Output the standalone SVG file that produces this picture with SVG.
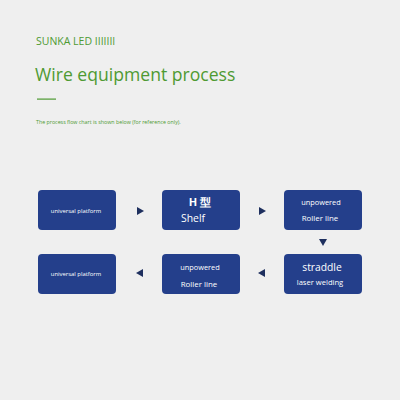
<svg xmlns="http://www.w3.org/2000/svg" width="400" height="400" viewBox="0 0 400 400">
<style>
.bg{fill:#efefef}
.box{fill:#243f8b}
.t{fill:#ffffff;font-family:"Open Sans","Noto Sans",sans-serif;text-anchor:middle}
.g{fill:#4e9a32;font-family:"Open Sans","Noto Sans",sans-serif}
.arr{fill:#1e2f5e}
</style>
<rect class="bg" x="0" y="0" width="400" height="400"/>
<g id="header">
<text class="g" x="36" y="45" font-size="10.5">SUNKA LED IIIIIII</text>
<text class="g" x="35" y="81" font-size="17.6">Wire equipment process</text>
<rect x="37" y="98.5" width="19" height="1.2" fill="#4e9a32"/>
<text class="g" x="36" y="124" font-size="5.3">The process flow chart is shown below (for reference only).</text>
</g>
<g id="n1"><rect class="box" x="38" y="190" width="78" height="40" rx="4"/><text class="t" x="76" y="213" font-size="5.9">universal platform</text></g>
<g id="n2"><rect class="box" x="162" y="190" width="78" height="40" rx="4"/><text class="t" x="200" y="206" font-size="11" font-weight="bold" font-family="'Noto Sans CJK SC',sans-serif">H 型</text><text class="t" x="193" y="222" font-size="10.4">Shelf</text></g>
<g id="n3"><rect class="box" x="284" y="190" width="78" height="40" rx="4"/><text class="t" x="321" y="205" font-size="7.4">unpowered</text><text class="t" x="320" y="221" font-size="7.9">Roller line</text></g>
<g id="n4"><rect class="box" x="284" y="254" width="78" height="40" rx="4"/><text class="t" x="322" y="271" font-size="10.3">straddle</text><text class="t" x="320" y="285" font-size="7.6">laser welding</text></g>
<g id="n5"><rect class="box" x="162" y="254" width="78" height="40" rx="4"/><text class="t" x="200" y="270" font-size="7.4">unpowered</text><text class="t" x="199" y="287" font-size="7.9">Roller line</text></g>
<g id="n6"><rect class="box" x="38" y="254" width="78" height="40" rx="4"/><text class="t" x="76" y="276" font-size="5.9">universal platform</text></g>
<g id="connectors">
<polygon class="arr" points="137,207 144,211 137,215"/>
<polygon class="arr" points="259,207 266,211 259,215"/>
<polygon class="arr" points="319,239 327,239 323,246"/>
<polygon class="arr" points="265,269 258,273 265,277"/>
<polygon class="arr" points="143,269 136,273 143,277"/>
</g>
</svg>
